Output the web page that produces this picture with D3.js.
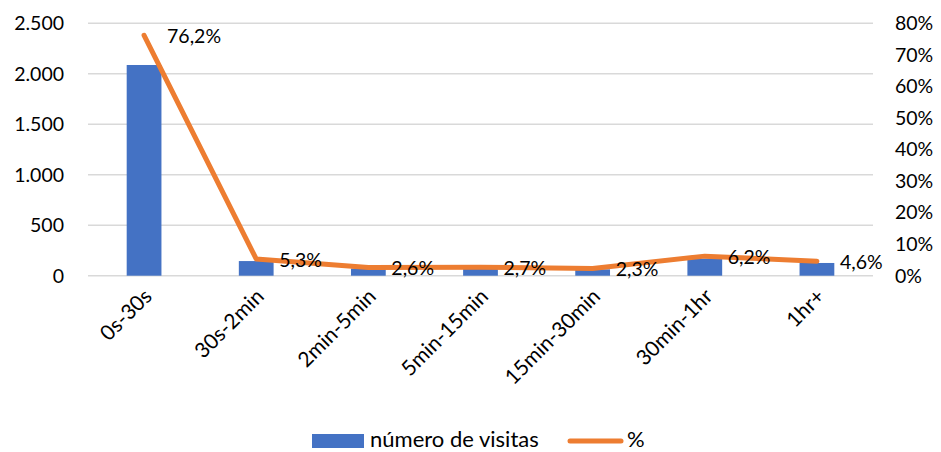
<!DOCTYPE html>
<html>
<head>
<meta charset="utf-8">
<script src="https://cdn.jsdelivr.net/npm/d3@7"></script>
<style>
  body { margin: 0; background: #fff; }
  text { font-family: Lato, "Open Sans", sans-serif; fill: #000; }
</style>
</head>
<body>
<div id="chart"></div>
<script>
const categories = ["0s-30s", "30s-2min", "2min-5min", "5min-15min", "15min-30min", "30min-1hr", "1hr+"];
const visits = [2087, 145, 71, 74, 63, 170, 126];
const percents = [76.2, 5.3, 2.6, 2.7, 2.3, 6.2, 4.6];
const leftTicks = [0, 500, 1000, 1500, 2000, 2500];
const rightTicks = [0, 10, 20, 30, 40, 50, 60, 70, 80];
const seriesNames = ["número de visitas", "%"];

const width = 941, height = 452;
const plotLeft = 88, plotRight = 873, plotTop = 23.3, plotBottom = 275.7;
const numSize = 19.5, catSize = 21, legendSize = 22;
const blue = "#4472C4", orange = "#ED7D31", grid = "#D9D9D9";

const svg = d3.select("#chart").append("svg")
    .attr("width", width)
    .attr("height", height);

const x = d3.scaleBand().domain(categories).range([plotLeft, plotRight]).padding(0);
const yL = d3.scaleLinear().domain([0, 2500]).range([plotBottom, plotTop]);
const yR = d3.scaleLinear().domain([0, 80]).range([plotBottom, plotTop]);
const barW = x.bandwidth() * 0.31;
const cx = d => x(d) + x.bandwidth() / 2;

const fmt = d3.formatLocale({decimal: ",", thousands: ".", grouping: [3], currency: ["", ""]});
const fmtInt = fmt.format(",.0f");
const fmtPct = fmt.format(".1f");

// gridlines
svg.selectAll(".grid")
    .data(leftTicks)
    .join("line")
    .attr("x1", plotLeft).attr("x2", plotRight)
    .attr("y1", d => yL(d)).attr("y2", d => yL(d))
    .style("stroke", grid)
    .style("stroke-width", "1.5px");

// left axis labels
svg.selectAll(".leftLabel")
    .data(leftTicks)
    .join("text")
    .attr("x", 64)
    .attr("y", d => yL(d))
    .attr("dy", "0.35em")
    .attr("text-anchor", "end")
    .attr("font-size", numSize)
    .text(d => fmtInt(d));

// right axis labels
svg.selectAll(".rightLabel")
    .data(rightTicks)
    .join("text")
    .attr("x", 895)
    .attr("y", d => yR(d))
    .attr("dy", "0.35em")
    .attr("font-size", numSize)
    .text(d => d + "%");

// bars
svg.selectAll(".bar")
    .data(categories)
    .join("rect")
    .attr("x", d => cx(d) - barW / 2)
    .attr("y", (d, i) => yL(visits[i]))
    .attr("width", barW)
    .attr("height", (d, i) => yL(0) - yL(visits[i]))
    .style("fill", blue);

// percent line
const line = d3.line()
    .x((d, i) => cx(categories[i]))
    .y(d => yR(d));

svg.append("path")
    .datum(percents)
    .attr("d", line)
    .style("fill", "none")
    .style("stroke", orange)
    .style("stroke-width", "5px")
    .style("stroke-linejoin", "round")
    .style("stroke-linecap", "round");

// data labels
svg.selectAll(".dataLabel")
    .data(percents)
    .join("text")
    .attr("x", (d, i) => cx(categories[i]) + 23)
    .attr("y", d => yR(d) + 1)
    .attr("dy", "0.35em")
    .attr("font-size", numSize)
    .text(d => fmtPct(d) + "%");

// category labels
svg.selectAll(".catLabel")
    .data(categories)
    .join("text")
    .attr("transform", d => `translate(${cx(d) + 9},${plotBottom + 22}) rotate(-45)`)
    .attr("text-anchor", "end")
    .attr("font-size", catSize)
    .text(d => d);

// legend
const legend = svg.append("g");
legend.append("rect")
    .attr("x", 312).attr("y", 434)
    .attr("width", 52).attr("height", 14)
    .style("fill", blue);
legend.append("text")
    .attr("x", 370).attr("y", 439)
    .attr("dy", "0.35em")
    .attr("font-size", legendSize)
    .text(seriesNames[0]);
legend.append("line")
    .attr("x1", 570).attr("x2", 621)
    .attr("y1", 441).attr("y2", 441)
    .style("stroke", orange)
    .style("stroke-width", "5px")
    .style("stroke-linecap", "round");
legend.append("text")
    .attr("x", 627).attr("y", 439)
    .attr("dy", "0.35em")
    .attr("font-size", legendSize)
    .text(seriesNames[1]);
</script>
</body>
</html>
